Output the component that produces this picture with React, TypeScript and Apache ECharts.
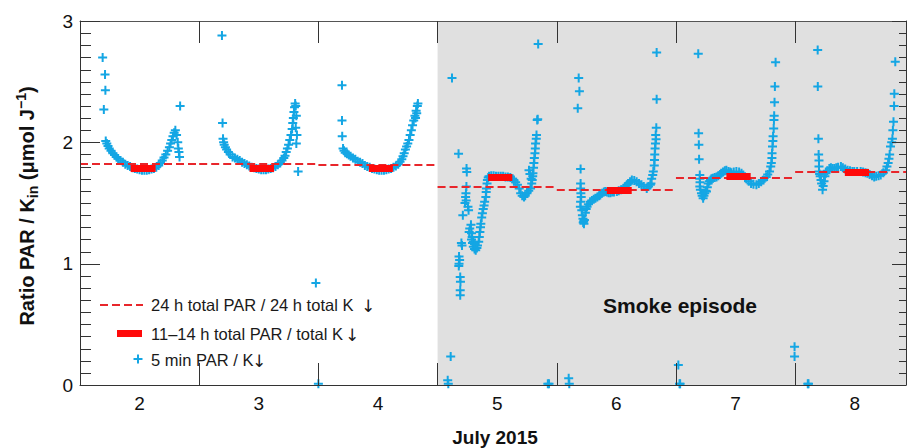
import React, { useEffect, useRef } from 'react';
import * as echarts from 'echarts';

const FONT = '"Liberation Sans", Arial, Helvetica, sans-serif';
const BLUE = '#14a6e4';
const RED_DASH = '#e8262b';
const RED_BAR = '#ff0a0a';

const X_MIN = 1.5;
const X_MAX = 8.43;
const Y_MIN = 0;
const Y_MAX = 3;

// July 2015 days (label at local noon)
const days = [2, 3, 4, 5, 6, 7, 8];
// 24 h total PAR / 24 h total K↓
const dailyRatio24h = [1.82, 1.825, 1.815, 1.635, 1.607, 1.712, 1.756];
// 11–14 h total PAR / total K↓
const middayRatio = [1.79, 1.79, 1.787, 1.712, 1.607, 1.723, 1.753];
const middayStart = [1.925, 2.922, 3.924, 4.924, 5.92, 6.923, 7.917];
const middayEnd = [2.134, 3.128, 4.125, 5.127, 6.129, 7.127, 8.12];

// y-axis tick values (major every 1, minor every 0.1)
const yMajorTicks = [0, 1, 2, 3];

// 5 min PAR / K↓ : [day, ratio]
const day2Points = [
  [1.69, 2.7], [1.71, 2.56], [1.713, 2.43], [1.7, 2.27], [2.34, 2.3],
  [1.716, 2.01], [1.725, 1.99], [1.735, 1.97], [1.745, 1.95], [1.76, 1.93], [1.775, 1.91],
  [1.79, 1.895], [1.805, 1.88], [1.82, 1.865], [1.84, 1.85], [1.86, 1.835], [1.88, 1.82],
  [1.9, 1.81], [1.92, 1.8], [1.94, 1.79], [1.96, 1.785], [1.98, 1.78], [2.0, 1.775],
  [2.02, 1.77], [2.04, 1.77], [2.06, 1.77], [2.08, 1.775], [2.1, 1.78], [2.12, 1.785],
  [2.14, 1.795], [2.16, 1.81], [2.175, 1.83], [2.19, 1.85], [2.205, 1.875], [2.22, 1.9],
  [2.235, 1.93], [2.25, 1.96], [2.26, 1.99], [2.27, 2.02], [2.28, 2.05], [2.29, 2.08],
  [2.3, 2.1], [2.31, 2.06], [2.32, 2.0], [2.325, 1.95], [2.33, 1.92], [2.335, 1.88],
];
const day3Points = [
  [2.691, 2.88], [2.696, 2.16], [3.33, 1.76], [3.479, 0.84], [3.5, 0.01],
  [2.7, 2.03], [2.705, 2.0], [2.71, 1.98], [2.72, 1.96], [2.73, 1.94], [2.745, 1.92],
  [2.76, 1.9], [2.78, 1.88], [2.8, 1.87], [2.82, 1.86], [2.84, 1.85], [2.86, 1.835],
  [2.88, 1.825], [2.9, 1.815], [2.92, 1.805], [2.94, 1.795], [2.96, 1.79], [2.98, 1.785],
  [3.0, 1.78], [3.02, 1.775], [3.04, 1.775], [3.06, 1.775], [3.08, 1.78], [3.1, 1.785],
  [3.12, 1.79], [3.14, 1.8], [3.16, 1.815], [3.18, 1.83], [3.195, 1.85], [3.21, 1.87],
  [3.22, 1.89], [3.23, 1.92], [3.24, 1.95], [3.25, 1.98], [3.26, 2.02], [3.27, 2.06],
  [3.28, 2.11], [3.285, 2.16], [3.29, 2.2], [3.295, 2.25], [3.3, 2.29], [3.305, 2.32],
  [3.31, 2.3], [3.315, 2.22], [3.31, 2.12], [3.32, 2.06], [3.315, 1.99],
];
const day4Points = [
  [3.698, 2.47], [3.698, 2.18], [3.7, 2.05],
  [3.707, 1.95], [3.715, 1.93], [3.725, 1.915], [3.74, 1.905], [3.755, 1.895], [3.77, 1.885],
  [3.79, 1.87], [3.81, 1.86], [3.83, 1.845], [3.85, 1.835], [3.87, 1.825], [3.89, 1.81],
  [3.91, 1.8], [3.93, 1.795], [3.95, 1.785], [3.97, 1.78], [3.99, 1.775], [4.01, 1.77],
  [4.03, 1.77], [4.05, 1.77], [4.07, 1.775], [4.09, 1.78], [4.11, 1.785], [4.13, 1.795],
  [4.15, 1.805], [4.17, 1.82], [4.185, 1.84], [4.2, 1.86], [4.21, 1.885], [4.22, 1.91],
  [4.23, 1.94], [4.24, 1.965], [4.25, 1.99], [4.26, 2.02], [4.27, 2.06], [4.28, 2.1],
  [4.29, 2.14], [4.3, 2.18], [4.31, 2.22], [4.32, 2.26], [4.33, 2.3], [4.335, 2.32],
  [4.325, 2.24], [4.315, 2.2],
];
const day5Points = [
  [4.621, 2.53], [4.676, 1.905], [4.743, 1.785], [4.745, 1.755], [4.742, 1.635], [5.344, 2.81],
  [4.61, 0.235], [4.585, 0.04], [4.59, 0.01], [5.425, 0.01], [5.435, 0.01],
  [4.738, 1.58], [4.735, 1.55], [4.74, 1.52], [4.73, 1.5], [4.712, 1.4], [4.76, 1.44], [4.755, 1.47],
  [4.78, 1.32], [4.765, 1.26], [4.77, 1.29], [4.7, 1.17], [4.705, 1.15],
  [4.68, 1.06], [4.685, 1.03], [4.68, 1.0], [4.678, 0.98], [4.69, 0.89], [4.692, 0.85], [4.69, 0.78], [4.69, 0.74],
  [4.785, 1.2], [4.793, 1.17], [4.8, 1.14], [4.81, 1.12], [4.82, 1.11], [4.83, 1.13], [4.835, 1.15],
  [4.845, 1.18], [4.85, 1.22], [4.855, 1.26], [4.8, 1.18], [4.79, 1.22], [4.785, 1.25], [4.81, 1.16],
  [4.86, 1.3], [4.863, 1.33], [4.87, 1.38], [4.876, 1.415], [4.883, 1.45], [4.89, 1.48], [4.895, 1.51],
  [4.905, 1.55], [4.908, 1.59], [4.91, 1.62], [4.915, 1.66], [4.918, 1.69], [4.925, 1.71], [4.932, 1.72],
  [4.95, 1.725], [4.97, 1.725], [4.99, 1.72], [5.01, 1.72], [5.03, 1.72], [5.05, 1.72], [5.07, 1.715],
  [5.09, 1.715], [5.11, 1.71], [5.13, 1.7],
  [5.14, 1.69], [5.155, 1.67], [5.17, 1.65], [5.185, 1.62], [5.197, 1.58], [5.21, 1.56], [5.225, 1.55],
  [5.235, 1.56], [5.25, 1.58], [5.265, 1.6], [5.28, 1.62], [5.29, 1.66], [5.294, 1.69], [5.298, 1.72],
  [5.3, 1.745], [5.305, 1.79], [5.308, 1.83], [5.312, 1.87], [5.317, 1.91], [5.32, 1.95], [5.322, 1.99],
  [5.328, 2.03], [5.33, 2.06], [5.336, 2.185], [5.34, 2.19], [5.267, 1.77], [5.275, 1.74], [5.285, 1.7],
];
const day6Points = [
  [5.684, 2.53], [5.69, 2.42], [5.676, 2.28], [5.7, 1.78], [6.338, 2.74],
  [5.6, 0.055], [5.605, 0.01], [6.52, 0.165], [6.53, 0.01], [6.535, 0.01],
  [5.7, 1.66], [5.7, 1.62], [5.702, 1.58], [5.705, 1.55], [5.7, 1.51], [5.698, 1.47], [5.71, 1.44],
  [5.715, 1.4], [5.72, 1.37], [5.726, 1.35], [5.728, 1.33], [5.722, 1.34], [5.732, 1.36], [5.74, 1.42],
  [5.747, 1.45], [5.754, 1.47], [5.765, 1.49], [5.78, 1.51], [5.795, 1.52], [5.81, 1.53], [5.824, 1.54],
  [5.84, 1.55], [5.855, 1.56], [5.865, 1.565], [5.88, 1.58], [5.895, 1.59], [5.907, 1.595], [5.92, 1.59],
  [5.935, 1.585], [5.95, 1.585], [5.965, 1.59], [5.98, 1.59], [6.004, 1.595], [6.02, 1.6], [6.04, 1.61],
  [6.06, 1.62], [6.075, 1.635], [6.09, 1.65], [6.1, 1.66], [6.115, 1.675], [6.13, 1.69], [6.15, 1.685],
  [6.17, 1.675], [6.19, 1.66], [6.21, 1.65], [6.23, 1.635], [6.255, 1.62], [6.27, 1.635], [6.285, 1.65],
  [6.29, 1.66], [6.296, 1.7], [6.305, 1.73], [6.31, 1.76], [6.318, 1.81], [6.32, 1.855], [6.322, 1.9],
  [6.325, 1.95], [6.328, 1.99], [6.333, 2.025], [6.33, 2.06], [6.335, 2.12], [6.338, 2.355],
];
const day7Points = [
  [6.687, 2.73], [6.69, 2.075], [6.692, 1.98], [6.694, 1.86], [7.495, 0.315], [7.495, 0.235],
  [7.606, 0.01], [7.612, 0.01],
  [6.7, 1.73], [6.7, 1.7], [6.702, 1.67], [6.7, 1.635], [6.705, 1.61], [6.714, 1.58], [6.72, 1.56],
  [6.728, 1.54], [6.735, 1.56], [6.742, 1.58], [6.75, 1.6], [6.756, 1.595], [6.763, 1.63], [6.77, 1.66],
  [6.78, 1.68], [6.79, 1.69], [6.798, 1.7], [6.81, 1.705], [6.825, 1.71], [6.84, 1.715], [6.855, 1.725],
  [6.87, 1.735], [6.88, 1.745], [6.895, 1.755], [6.91, 1.765], [6.923, 1.77], [6.94, 1.76], [6.955, 1.755],
  [6.965, 1.75], [6.985, 1.755], [7.007, 1.76], [7.03, 1.755], [7.05, 1.745], [7.065, 1.73], [7.08, 1.71],
  [7.09, 1.7], [7.11, 1.68], [7.13, 1.66], [7.15, 1.655], [7.175, 1.65], [7.195, 1.66], [7.215, 1.675],
  [7.235, 1.69], [7.257, 1.715], [7.27, 1.735], [7.285, 1.76], [7.295, 1.8], [7.3, 1.83], [7.305, 1.87],
  [7.306, 1.91], [7.31, 1.965], [7.313, 2.01], [7.315, 2.05], [7.32, 2.115], [7.322, 2.185], [7.324, 2.22],
  [7.327, 2.33], [7.33, 2.46], [7.336, 2.66],
];
const day8Points = [
  [7.689, 2.76], [7.69, 2.46], [7.695, 2.03], [7.697, 1.9], [7.7, 1.85],
  [7.7, 1.8], [7.7, 1.76], [7.705, 1.74], [7.71, 1.72], [7.717, 1.69], [7.722, 1.66], [7.73, 1.61],
  [7.735, 1.64], [7.742, 1.68], [7.75, 1.72], [7.758, 1.745], [7.77, 1.765], [7.787, 1.785], [7.8, 1.79],
  [7.815, 1.785], [7.83, 1.785], [7.845, 1.79], [7.86, 1.795], [7.884, 1.8], [7.9, 1.79], [7.92, 1.78],
  [7.94, 1.77], [7.96, 1.765], [7.98, 1.76], [7.996, 1.76], [8.02, 1.76], [8.05, 1.76], [8.07, 1.755],
  [8.09, 1.75], [8.107, 1.745], [8.125, 1.735], [8.145, 1.725], [8.163, 1.715], [8.18, 1.72], [8.2, 1.725],
  [8.218, 1.73], [8.24, 1.75], [8.26, 1.77], [8.27, 1.8], [8.28, 1.83], [8.287, 1.865], [8.293, 1.9],
  [8.3, 1.965], [8.31, 2.0], [8.316, 2.03], [8.32, 2.1], [8.325, 2.17], [8.33, 2.3], [8.332, 2.4], [8.34, 2.665],
];

const smokeStart = 4.5;

const PLUS = 'path://M3.5,0H5.5V3.5H9V5.5H5.5V9H3.5V5.5H0V3.5H3.5Z';

export default function App() {
  const ref = useRef<HTMLDivElement>(null);
  useEffect(() => {
    const chart = echarts.init(ref.current!, null, { renderer: 'svg' });
    const allPoints = [
      ...day2Points, ...day3Points, ...day4Points, ...day5Points,
      ...day6Points, ...day7Points, ...day8Points,
    ];
    const dashedSegs = days.map((d, i) => ({
      coords: [[d - 0.5, dailyRatio24h[i]], [Math.min(d + 0.5, X_MAX), dailyRatio24h[i]]],
    }));
    const barSegs = days.map((d, i) => ({
      coords: [[middayStart[i], middayRatio[i]], [middayEnd[i], middayRatio[i]]],
    }));
    const axisColor = '#333';
    const ts = () => ({ color: axisColor, width: 1 });
    const graphics: any[] = [
      {
        type: 'text', x: 27, y: 206, rotation: Math.PI / 2,
        style: {
          text: '{a|Ratio PAR / K}{s|in}{a| (μmol J}{p|−1}{a|)}',
          align: 'center', verticalAlign: 'middle',
          rich: {
            a: { fontSize: 20, fontWeight: 'bold', fontFamily: FONT, fill: '#111', lineHeight: 26 },
            s: { fontSize: 14, fontWeight: 'bold', fontFamily: FONT, fill: '#111', lineHeight: 16, verticalAlign: 'bottom' },
            p: { fontSize: 14, fontWeight: 'bold', fontFamily: FONT, fill: '#111', lineHeight: 16, verticalAlign: 'top' },
          },
        },
      },
      {
        type: 'text', x: 495, y: 437,
        style: { text: 'July 2015', fontSize: 19, fontWeight: 'bold', fontFamily: FONT, fill: '#111', align: 'center', verticalAlign: 'middle' },
      },
      {
        type: 'text', x: 680, y: 305, z: 20,
        style: { text: 'Smoke episode', fontSize: 21, fontWeight: 'bold', fontFamily: FONT, fill: '#111', align: 'center', verticalAlign: 'middle' },
      },
      {
        type: 'line', z: 20, shape: { x1: 100, y1: 305, x2: 143, y2: 305 },
        style: { stroke: RED_DASH, lineWidth: 2, lineDash: [8, 4] },
      },
      {
        type: 'text', x: 151, y: 305, z: 20,
        style: { text: '24 h total PAR / 24 h total K', fontSize: 16.5, fontFamily: FONT, fill: '#1a1a1a', align: 'left', verticalAlign: 'middle' },
      },
      {
        type: 'text', x: 368, y: 306, z: 20,
        style: { text: '↓', fontSize: 17, fontFamily: '"DejaVu Sans", sans-serif', fill: '#1a1a1a', align: 'center', verticalAlign: 'middle' },
      },
      {
        type: 'rect', z: 20, shape: { x: 117, y: 330, width: 25, height: 7 },
        style: { fill: RED_BAR },
      },
      {
        type: 'text', x: 151, y: 334, z: 20,
        style: { text: '11–14 h total PAR / total K', fontSize: 16.5, fontFamily: FONT, fill: '#1a1a1a', align: 'left', verticalAlign: 'middle' },
      },
      {
        type: 'text', x: 352, y: 335, z: 20,
        style: { text: '↓', fontSize: 17, fontFamily: '"DejaVu Sans", sans-serif', fill: '#1a1a1a', align: 'center', verticalAlign: 'middle' },
      },
      {
        type: 'rect', z: 20, shape: { x: 133.5, y: 358, width: 9, height: 2 },
        style: { fill: BLUE },
      },
      {
        type: 'rect', z: 20, shape: { x: 137, y: 354.5, width: 2, height: 9 },
        style: { fill: BLUE },
      },
      {
        type: 'text', x: 151, y: 360, z: 20,
        style: { text: '5 min PAR / K', fontSize: 16.5, fontFamily: FONT, fill: '#1a1a1a', align: 'left', verticalAlign: 'middle' },
      },
      {
        type: 'text', x: 259, y: 361, z: 20,
        style: { text: '↓', fontSize: 17, fontFamily: '"DejaVu Sans", sans-serif', fill: '#1a1a1a', align: 'center', verticalAlign: 'middle' },
      },
    ];
    const option = {
      animation: false,
      backgroundColor: '#fff',
      grid: { left: 80, right: 0, top: 21, bottom: 63, containLabel: false },
      xAxis: [
        {
          type: 'value', position: 'bottom', min: X_MIN, max: X_MAX, interval: 0.5, z: 10,
          axisLine: { show: true, onZero: false, lineStyle: { color: axisColor, width: 1 } },
          axisTick: { show: false },
          splitLine: { show: false },
          axisLabel: {
            show: true, fontSize: 19, color: '#111', fontFamily: FONT, margin: 9,
            formatter: (v: number) => (Math.abs(v - Math.round(v)) < 1e-6 ? String(Math.round(v)) : ''),
          },
        },
        {
          type: 'value', position: 'top', min: X_MIN, max: X_MAX, interval: 1, z: 10,
          axisLine: { show: true, onZero: false, lineStyle: { color: '#555', width: 1 } },
          axisTick: { show: true, inside: true, length: 22, lineStyle: ts() },
          splitLine: { show: false },
          axisLabel: { show: false },
        },
        {
          type: 'value', position: 'bottom', min: X_MIN, max: X_MAX, interval: 1, z: 10,
          axisLine: { show: false, onZero: false },
          axisTick: { show: true, inside: true, length: 22, lineStyle: ts() },
          splitLine: { show: false },
          axisLabel: { show: false },
        },
      ],
      yAxis: [
        {
          type: 'value', position: 'left', min: Y_MIN, max: Y_MAX, interval: 1, z: 10,
          axisLine: { show: true, onZero: false, lineStyle: { color: axisColor, width: 1 } },
          axisTick: { show: false },
          splitLine: { show: false },
          axisLabel: { show: true, fontSize: 19, color: '#111', fontFamily: FONT, margin: 7 },
        },
        {
          type: 'value', position: 'right', min: Y_MIN, max: Y_MAX, interval: 1, z: 10,
          axisLine: { show: true, onZero: false, lineStyle: { color: axisColor, width: 1 } },
          axisTick: { show: false },
          splitLine: { show: false },
          axisLabel: { show: false },
        },
      ],
      series: [
        {
          type: 'scatter', xAxisIndex: 0, yAxisIndex: 0, data: [], z: 1, silent: true,
          markArea: {
            silent: true,
            itemStyle: { color: '#e0e0e0' },
            data: [[{ xAxis: smokeStart }, { xAxis: X_MAX }]],
          },
        },
        {
          type: 'scatter', xAxisIndex: 0, yAxisIndex: 0, data: allPoints, z: 3,
          symbol: PLUS, symbolSize: 9, itemStyle: { color: BLUE, opacity: 1 },
        },
        {
          type: 'lines', coordinateSystem: 'cartesian2d', xAxisIndex: 0, yAxisIndex: 0, z: 4,
          data: dashedSegs,
          lineStyle: { color: RED_DASH, width: 2, type: [8, 4], opacity: 1 },
        },
        {
          type: 'lines', coordinateSystem: 'cartesian2d', xAxisIndex: 0, yAxisIndex: 0, z: 5,
          data: barSegs,
          lineStyle: { color: RED_BAR, width: 7, type: 'solid', opacity: 1, cap: 'butt' },
        },
      ],
      graphic: graphics,
    };
    chart.setOption(option as any);

    // y-axis tick marks placed through the chart's own scale
    const tickGraphics: any[] = [];
    for (let k = 0; k <= 30; k++) {
      const v = k / 10;
      const major = yMajorTicks.indexOf(v) >= 0;
      const pl = chart.convertToPixel({ xAxisIndex: 0, yAxisIndex: 0 } as any, [X_MIN, v]) as number[];
      const pr = chart.convertToPixel({ xAxisIndex: 0, yAxisIndex: 0 } as any, [X_MAX, v]) as number[];
      if (!pl || !pr) continue;
      const y = Math.round(pl[1]) + 0.5;
      const lenL = major ? 20 : 11;
      const lenR = major ? 14 : 7;
      tickGraphics.push({
        type: 'line', z: 30, silent: true,
        shape: { x1: pl[0], y1: y, x2: pl[0] + lenL, y2: y },
        style: { stroke: axisColor, lineWidth: 1 },
      });
      tickGraphics.push({
        type: 'line', z: 30, silent: true,
        shape: { x1: pr[0] - lenR, y1: y, x2: pr[0], y2: y },
        style: { stroke: axisColor, lineWidth: 1 },
      });
    }
    chart.setOption({ graphic: [...graphics, ...tickGraphics] } as any, { replaceMerge: ['graphic'] } as any);
    return () => chart.dispose();
  }, []);
  return (
    <div
      ref={ref}
      style={{ position: 'fixed', left: 0, top: 0, width: 909, height: 448, background: '#fff' }}
    />
  );
}
